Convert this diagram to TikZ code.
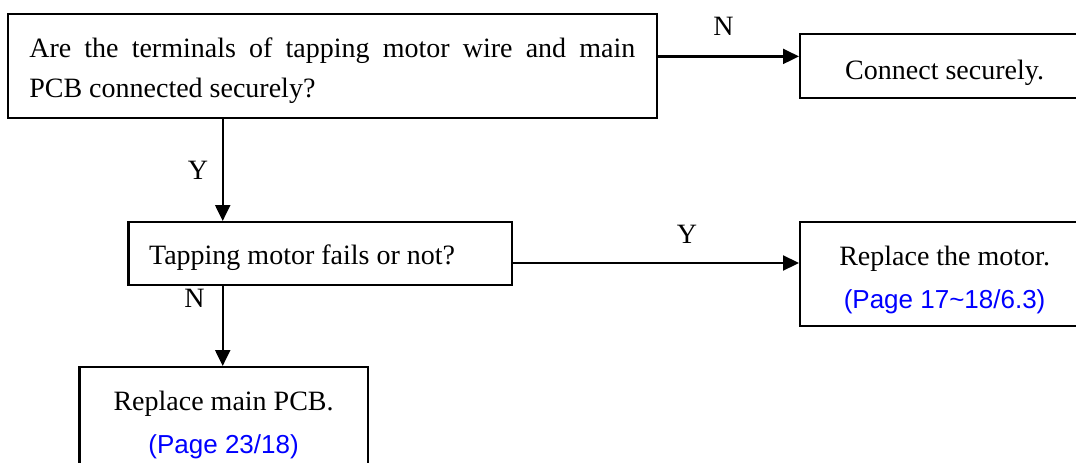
\documentclass[tikz,border=0pt]{standalone}
\usepackage{fontspec}
\setmainfont{Liberation Serif}
\newfontfamily\sansf{Liberation Sans}
\usetikzlibrary{arrows.meta}
\definecolor{linkblue}{RGB}{0,0,255}
\newcommand{\bigtxt}{\fontsize{28}{40.7}\selectfont}
\newcommand{\twotxt}{\fontsize{28}{43}\selectfont}
\newcommand{\pagetxt}[1]{{\sansf\color{linkblue}\fontsize{26}{43}\selectfont #1}}
\begin{document}
\begin{tikzpicture}[x=1pt,y=-1pt,
  box/.style={draw, line width=2.2pt, inner sep=0pt, anchor=north west, font=\bigtxt},
  lbl/.style={anchor=base, inner sep=0pt, font=\bigtxt},
  arr/.style={line width=2.2pt, -{Triangle[length=16pt,width=15pt]}}]
\useasboundingbox (0,0) rectangle (1076,463);
\clip (0,0) rectangle (1076,463);
% boxes
\node[box, minimum width=649pt, minimum height=104pt, text height=66pt, text depth=2pt] (q1) at (6.7,12.7)
  {\parbox[b]{606pt}{Are the terminals of tapping motor wire and main\linebreak PCB connected securely?}};
\node[box, minimum width=289pt, minimum height=63.5pt, text height=28pt, text depth=0.3pt] (a1) at (799,33)
  {Connect securely.};
\node[box, minimum width=383.7pt, minimum height=62.5pt, text height=23pt, text depth=0.9pt] (q2) at (127.3,221)
  {\parbox[b]{342.3pt}{\raggedright Tapping motor fails or not?}};
\node[box, minimum width=289pt, minimum height=104pt, text height=70pt, text depth=2pt] (a2) at (799,221)
  {\parbox[b]{280pt}{\twotxt\centering Replace the motor.\\ \pagetxt{(Page 17\textasciitilde18/6.3)}}};
\node[box, minimum width=288.4pt, minimum height=114pt, text height=60pt, text depth=2pt] (a3) at (78.3,366)
  {\parbox[b]{280pt}{\twotxt\centering Replace main PCB.\\ \pagetxt{(Page 23/18)}}};
% helper coordinates
\coordinate (yN) at (0,56.4);
\coordinate (yY) at (0,263);
\coordinate (xV) at (222.7,0);
% connectors
\draw[arr] (q1.east |- yN) -- (a1.west |- yN);
\draw[arr] (q1.south -| xV) -- (q2.north -| xV);
\draw[arr] (q2.east |- yY) -- (a2.west |- yY);
\draw[arr] (q2.south -| xV) -- (a3.north -| xV);
% labels
\node[lbl] (lN1) at (723.6,35) {N};
\node[lbl] (lY1) at (198,179) {Y};
\node[lbl] (lY2) at (687,243) {Y};
\node[lbl] (lN2) at (194.6,307) {N};
\end{tikzpicture}
\end{document}
